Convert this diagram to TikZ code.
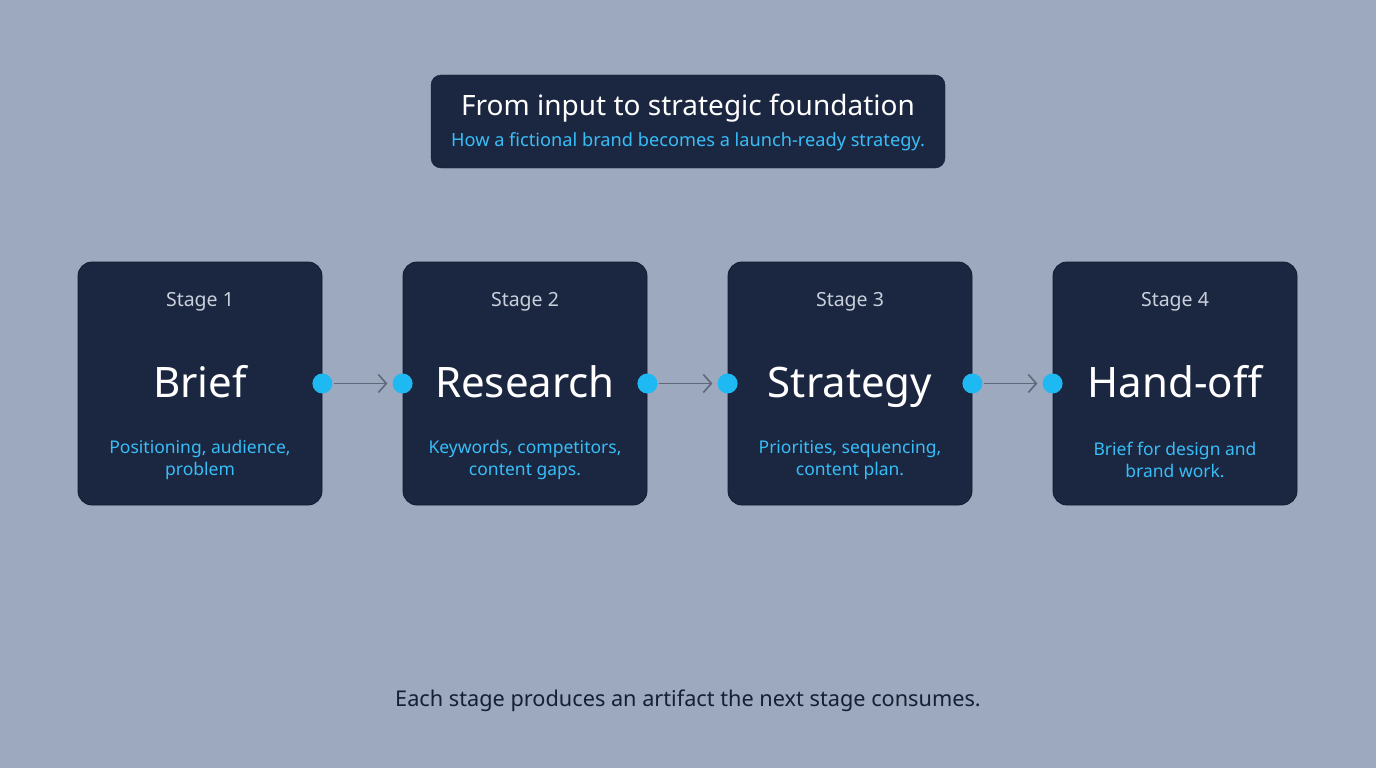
\documentclass[tikz,border=0pt]{standalone}
\usepackage{fontspec}
\setmainfont{Noto Sans}
\usetikzlibrary{arrows.meta}
\definecolor{bg}{HTML}{9CA9BF}
\definecolor{boxc}{HTML}{1B2740}
\definecolor{cyan}{HTML}{38BDF8}
\definecolor{dot}{HTML}{1EB8F2}
\definecolor{arr}{HTML}{5F6878}
\definecolor{lbl}{HTML}{C9D0DC}
\begin{document}
\begin{tikzpicture}[x=1pt,y=-1pt,
  stage/.style={draw=boxc!70!black,line width=0.8pt,fill=boxc,rounded corners=14pt,minimum width=244pt,minimum height=243pt},
  dotn/.style={circle,fill=dot,minimum size=20pt,inner sep=0pt},
  conn/.style={draw=arr,line width=1.6pt,shorten <=1pt,shorten >=5pt,-{Straight Barb[length=8pt,width=18pt]}},
  small/.style={text=lbl,font=\fontsize{19.5}{22}\selectfont},
  big/.style={text=white,font=\fontsize{42}{48}\selectfont,text height=30pt,text depth=0pt},
  desc/.style={text=cyan,font=\fontsize{17.5}{22}\selectfont,align=center}]
\fill[bg] (0,0) rectangle (1376,768);
\useasboundingbox (0,0) rectangle (1376,768);
\node[draw=boxc!70!black,fill=boxc,rounded corners=10pt,minimum width=514pt,minimum height=93pt] (title) at (688,121.5) {};
\node[text=white,font=\fontsize{28}{30}\selectfont] (t1) at (688,108) {From input to strategic foundation};
\node[text=cyan,font=\fontsize{18.2}{20}\selectfont] (t2) at (688,142) {How a fictional brand becomes a launch-ready strategy.};
\foreach \i/\x/\n/\d in {1/200/Brief/{Positioning, audience,\\problem},2/525/Research/{Keywords, competitors,\\content gaps.},3/850/Strategy/{Priorities, sequencing,\\content plan.},4/1175/Hand-off/{Brief for design and\\brand work.}}{
  \node[stage] (s\i) at (\x,383.5) {};
  \node[small] (l\i) at (\x,302) {Stage \i};
  \node[big] (b\i) at (\x,382) {\n};
  \node[desc] (d\i) at (\x,460) {\d};
}
\foreach \a/\b in {1/2,2/3,3/4}{
  \node[dotn] (o\a) at (s\a.east) {};
  \node[dotn] (i\b) at (s\b.west) {};
  \draw[conn] (o\a) -- (i\b);
}
\node[text=boxc!80!black,font=\fontsize{21.7}{24}\selectfont] (foot) at (688,701) {Each stage produces an artifact the next stage consumes.};
\end{tikzpicture}
\end{document}
